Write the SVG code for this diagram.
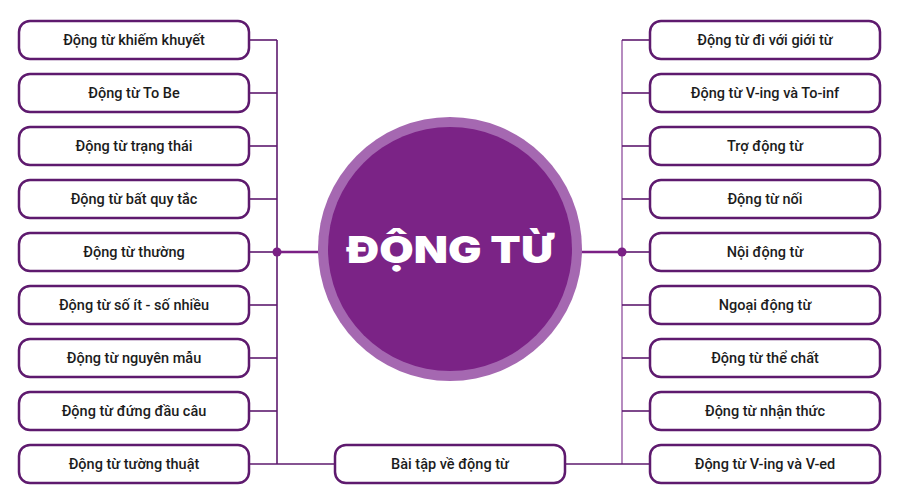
<svg xmlns="http://www.w3.org/2000/svg" width="900" height="500" viewBox="0 0 900 500">
<style>
.box rect{fill:#fff;stroke:#5e1a6e;stroke-width:2.5}
.box text{font-family:Roboto,"Noto Sans",sans-serif;font-weight:500;font-size:14.5px;fill:#1c1c1c;text-anchor:middle}
.con line{stroke:#5e1a6e;stroke-width:1.6}
.con .light{stroke:#a46fb0}
</style>
<rect width="900" height="500" fill="#fff"/>
<g id="connectors" class="con">
<line x1="277" y1="40" x2="277" y2="464"/>
<line x1="249" y1="40" x2="277" y2="40"/>
<line x1="249" y1="93" x2="277" y2="93"/>
<line x1="249" y1="146" x2="277" y2="146"/>
<line x1="249" y1="199" x2="277" y2="199"/>
<line x1="249" y1="252" x2="277" y2="252"/>
<line x1="249" y1="305" x2="277" y2="305"/>
<line x1="249" y1="358" x2="277" y2="358"/>
<line x1="249" y1="411" x2="277" y2="411"/>
<line x1="249" y1="464" x2="335" y2="464"/>
<line class="light" x1="622" y1="40" x2="622" y2="464"/>
<line x1="622" y1="40" x2="650" y2="40"/>
<line x1="622" y1="93" x2="650" y2="93"/>
<line x1="622" y1="146" x2="650" y2="146"/>
<line x1="622" y1="199" x2="650" y2="199"/>
<line x1="622" y1="252" x2="650" y2="252"/>
<line x1="622" y1="305" x2="650" y2="305"/>
<line x1="622" y1="358" x2="650" y2="358"/>
<line x1="622" y1="411" x2="650" y2="411"/>
<line x1="565" y1="464" x2="650" y2="464"/>
<line x1="277" y1="252" x2="320" y2="252" style="stroke:#7a2085;stroke-width:2.5"/>
<line x1="580" y1="252" x2="622" y2="252" style="stroke:#7a2085;stroke-width:2.5"/>
<circle cx="277" cy="252" r="4.5" fill="#7a2085"/>
<circle cx="622" cy="252" r="4.5" fill="#7a2085"/>
</g>
<g id="center">
<circle cx="450" cy="249" r="132" fill="#a568b1"/>
<circle cx="450" cy="249" r="122" fill="#7b2386"/>
<text x="450" y="263" text-anchor="middle" textLength="206" lengthAdjust="spacingAndGlyphs" font-family="Inter,'Open Sans',sans-serif" font-weight="900" font-size="37" fill="#fff">ĐỘNG TỪ</text>
</g>
<g id="l1" class="box"><rect x="19" y="21" width="230" height="38" rx="11"/><text x="134" y="45">Động từ khiếm khuyết</text></g>
<g id="l2" class="box"><rect x="19" y="74" width="230" height="38" rx="11"/><text x="134" y="98">Động từ To Be</text></g>
<g id="l3" class="box"><rect x="19" y="127" width="230" height="38" rx="11"/><text x="134" y="151">Động từ trạng thái</text></g>
<g id="l4" class="box"><rect x="19" y="180" width="230" height="38" rx="11"/><text x="134" y="204">Động từ bất quy tắc</text></g>
<g id="l5" class="box"><rect x="19" y="233" width="230" height="38" rx="11"/><text x="134" y="257">Động từ thường</text></g>
<g id="l6" class="box"><rect x="19" y="286" width="230" height="38" rx="11"/><text x="134" y="310">Động từ số ít - số nhiều</text></g>
<g id="l7" class="box"><rect x="19" y="339" width="230" height="38" rx="11"/><text x="134" y="363">Động từ nguyên mẫu</text></g>
<g id="l8" class="box"><rect x="19" y="392" width="230" height="38" rx="11"/><text x="134" y="416">Động từ đứng đầu câu</text></g>
<g id="l9" class="box"><rect x="19" y="445" width="230" height="38" rx="11"/><text x="134" y="469">Động từ tường thuật</text></g>
<g id="r1" class="box"><rect x="650" y="21" width="230" height="38" rx="11"/><text x="765" y="45">Động từ đi với giới từ</text></g>
<g id="r2" class="box"><rect x="650" y="74" width="230" height="38" rx="11"/><text x="765" y="98">Động từ V-ing và To-inf</text></g>
<g id="r3" class="box"><rect x="650" y="127" width="230" height="38" rx="11"/><text x="765" y="151">Trợ động từ</text></g>
<g id="r4" class="box"><rect x="650" y="180" width="230" height="38" rx="11"/><text x="765" y="204">Động từ nối</text></g>
<g id="r5" class="box"><rect x="650" y="233" width="230" height="38" rx="11"/><text x="765" y="257">Nội động từ</text></g>
<g id="r6" class="box"><rect x="650" y="286" width="230" height="38" rx="11"/><text x="765" y="310">Ngoại động từ</text></g>
<g id="r7" class="box"><rect x="650" y="339" width="230" height="38" rx="11"/><text x="765" y="363">Động từ thể chất</text></g>
<g id="r8" class="box"><rect x="650" y="392" width="230" height="38" rx="11"/><text x="765" y="416">Động từ nhận thức</text></g>
<g id="r9" class="box"><rect x="650" y="445" width="230" height="38" rx="11"/><text x="765" y="469">Động từ V-ing và V-ed</text></g>
<g id="b1" class="box"><rect x="335" y="445" width="230" height="38" rx="11"/><text x="450" y="469">Bài tập về động từ</text></g>
</svg>
